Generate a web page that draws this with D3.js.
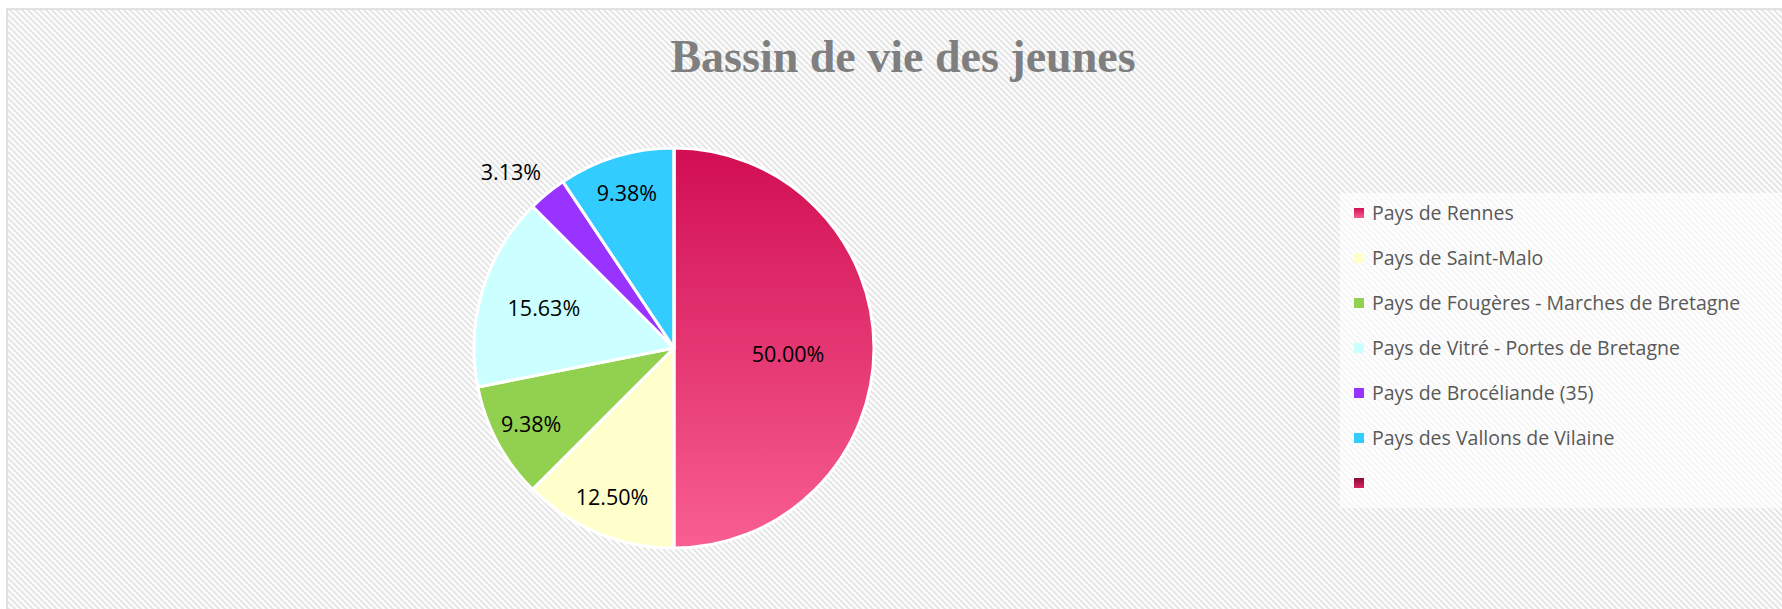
<!DOCTYPE html>
<html>
<head>
<meta charset="utf-8">
<script src="https://cdn.jsdelivr.net/npm/d3@7"></script>
<style>
  html, body { margin: 0; padding: 0; background: #fff; }
  svg { display: block; }
</style>
</head>
<body>
<div class="chart"></div>
<script>
// data
const categories = ["Pays de Rennes", "Pays de Saint-Malo", "Pays de Fougères - Marches de Bretagne",
  "Pays de Vitré - Portes de Bretagne", "Pays de Brocéliande (35)", "Pays des Vallons de Vilaine", ""];
const counts = [16, 4, 3, 5, 1, 3, 0];
const title = "Bassin de vie des jeunes";

const width = 1782, height = 609;
const frame = {left: 7, top: 9};
const cx = 674, cy = 348, radius = 200;

const svg = d3.select(".chart").append("svg")
    .attr("width", width)
    .attr("height", height)
    .attr("viewBox", [0, 0, width, height]);

const defs = svg.append("defs");

// diagonal hatch like the Excel pattern fill
const pat = defs.append("pattern")
    .attr("id", "hatch")
    .attr("patternUnits", "userSpaceOnUse")
    .attr("width", 6)
    .attr("height", 6);
pat.append("rect").attr("width", 6).attr("height", 6).attr("fill", "#fefefe");
pat.append("path")
    .attr("d", "M-1,-1L7,7M-1,5L1,7M5,-1L7,1")
    .attr("stroke", "#e6e6e6")
    .attr("stroke-width", 2);

// slice fills; the first and last use vertical gradients
const grads = {
  0: ["#d10e52", "#f85f93"],
  6: ["#8a0a38", "#d8265f"]
};
Object.entries(grads).forEach(([i, [a, b]]) => {
  const g = defs.append("linearGradient")
      .attr("id", "grad" + i)
      .attr("x1", 0).attr("y1", 0).attr("x2", 0).attr("y2", 1);
  g.append("stop").attr("offset", "0%").attr("stop-color", a);
  g.append("stop").attr("offset", "100%").attr("stop-color", b);
});
const flat = ["#d10e52", "#ffffcc", "#92d050", "#ccffff", "#9933ff", "#33ccff", "#8a0a38"];
const fillOf = i => grads[i] ? `url(#grad${i})` : flat[i];

// chart area
svg.append("rect")
    .attr("x", frame.left)
    .attr("y", frame.top)
    .attr("width", width)
    .attr("height", height)
    .attr("fill", "url(#hatch)")
    .attr("stroke", "#d9d9d9")
    .attr("stroke-width", 1.5);

svg.append("text")
    .attr("x", 903)
    .attr("y", 72)
    .attr("text-anchor", "middle")
    .attr("font-family", "'Liberation Serif', 'DejaVu Serif', serif")
    .attr("font-weight", "bold")
    .attr("font-size", 46)
    .attr("fill", "#7f7f7f")
    .text(title);

// pie
const total = d3.sum(counts);
const pie = d3.pie().sort(null).value(d => d)(counts);
const arc = d3.arc().innerRadius(0).outerRadius(radius);

const g = svg.append("g").attr("transform", `translate(${cx},${cy})`);

g.selectAll("path")
  .data(pie)
  .join("path")
    .attr("d", arc)
    .attr("fill", (d, i) => fillOf(i))
    .attr("stroke", "#fff")
    .attr("stroke-width", 3)
    .attr("stroke-linejoin", "round");

// small slices get their label outside, nudged a little toward the left
const labelPos = d => {
  const share = d.value / total;
  let a = (d.startAngle + d.endAngle) / 2, r = radius * 0.81;
  if (share >= 0.5) r = radius * 0.57;
  else if (share < 0.05) { r = radius * 1.2; a -= 0.06; }
  else if (share > 0.15) r = radius * 0.68;
  return [Math.sin(a) * r, -Math.cos(a) * r];
};

g.selectAll("text")
  .data(pie.filter(d => d.value > 0))
  .join("text")
    .attr("transform", d => `translate(${labelPos(d)})`)
    .attr("text-anchor", "middle")
    .attr("dy", d => d.value / total >= 0.5 ? "0.65em" : "0.36em")
    .attr("font-family", "'Open Sans', sans-serif")
    .attr("font-size", 21.5)
    .attr("fill", "#000")
    .text(d => d3.format(".2%")(d.value / total));

// legend
svg.append("rect")
    .attr("x", 1340)
    .attr("y", 193)
    .attr("width", width - 1340)
    .attr("height", 315)
    .attr("fill", "#fff")
    .attr("fill-opacity", 0.65);

const legend = svg.append("g")
    .attr("font-family", "'Open Sans', sans-serif")
    .attr("font-size", 19.5)
    .attr("fill", "#595959")
  .selectAll("g")
  .data(categories)
  .join("g")
    .attr("transform", (d, i) => `translate(1354,${213 + i * 45})`);

legend.append("rect")
    .attr("y", -5)
    .attr("width", 10)
    .attr("height", 10)
    .attr("fill", (d, i) => fillOf(i));

legend.append("text")
    .attr("x", 18)
    .attr("dy", "0.35em")
    .text(d => d);
</script>
</body>
</html>
